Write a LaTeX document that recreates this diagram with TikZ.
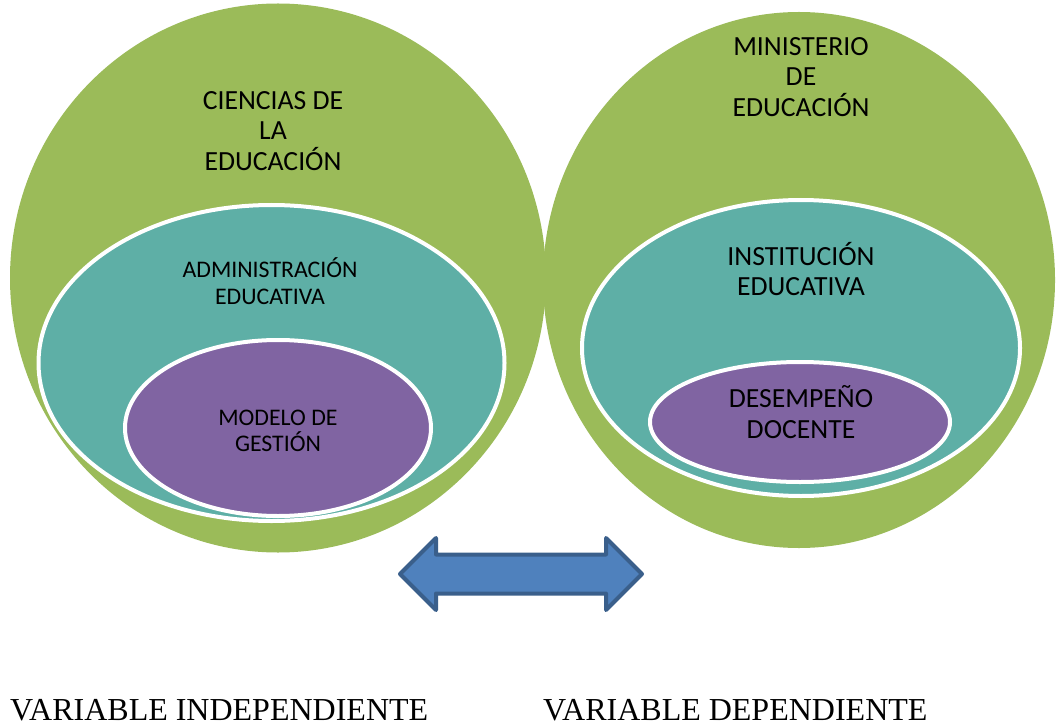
\documentclass[tikz,border=0pt]{standalone}
\usepackage{fontspec}
\setmainfont{Carlito}
\newfontfamily\timesfont{Liberation Serif}
\usetikzlibrary{shapes.geometric,shapes.arrows}
\definecolor{grn}{HTML}{9BBB59}
\definecolor{tealc}{HTML}{5EAFA6}
\definecolor{purp}{HTML}{8064A2}
\definecolor{arrfill}{HTML}{4F81BD}
\definecolor{arrline}{HTML}{3A5F8B}
\begin{document}
\begin{tikzpicture}[x=1pt,y=-1pt,
  outerc/.style={ellipse,fill=grn,inner sep=0pt},
  midc/.style={ellipse,fill=tealc,draw=white,line width=4pt,inner sep=0pt},
  innerc/.style={ellipse,fill=purp,draw=white,line width=4pt,inner sep=0pt},
  bigtxt/.style={align=center,inner sep=0pt,font=\fontsize{27.7}{30.5}\selectfont},
  smalltxt/.style={align=center,inner sep=0pt,font=\fontsize{23.8}{26.5}\selectfont},
  vartxt/.style={anchor=base west,inner sep=0pt,font=\timesfont\fontsize{32}{35}\selectfont},
  dblarrow/.style={double arrow,fill=arrfill,draw=arrline,line width=4pt,line join=round,
    minimum height=242pt,minimum width=68pt,double arrow head extend=16.5pt,inner sep=17.5pt}]
\useasboundingbox (0,0) rectangle (1056,727);
% left group
\node[outerc,minimum width=536pt,minimum height=549pt] (lout) at (278,278) {};
\node[midc,minimum width=466pt,minimum height=316pt] (lmid) at (271.5,363) {};
\node[innerc,minimum width=306pt,minimum height=176pt] (lin) at (278,428) {};
\node[bigtxt] (ltxt1) at (273,131) {CIENCIAS DE\\LA\\EDUCACIÓN};
\node[smalltxt] (ltxt2) at (270,281) {ADMINISTRACIÓN\\EDUCATIVA};
\node[smalltxt] (ltxt3) at (278,431) {MODELO DE\\GESTIÓN};
% right group
\node[outerc,minimum width=512pt,minimum height=536pt] (rout) at (799,280) {};
\node[midc,minimum width=438pt,minimum height=296pt] (rmid) at (801,348) {};
\node[innerc,minimum width=300pt,minimum height=120pt] (rin) at (800,422) {};
\node[bigtxt] (rtxt1) at (801,77) {MINISTERIO\\DE\\EDUCACIÓN};
\node[bigtxt] (rtxt2) at (801,269) {INSTITUCIÓN\\EDUCATIVA};
\node[bigtxt] (rtxt3) at (801,412) {DESEMPEÑO\\DOCENTE};
% arrow
\node[dblarrow] (arr) at (521,574) {};
% bottom labels
\node[vartxt] (vind) at (10,720) {VARIABLE INDEPENDIENTE};
\node[vartxt] (vdep) at (543,720) {VARIABLE DEPENDIENTE};
\end{tikzpicture}
\end{document}
